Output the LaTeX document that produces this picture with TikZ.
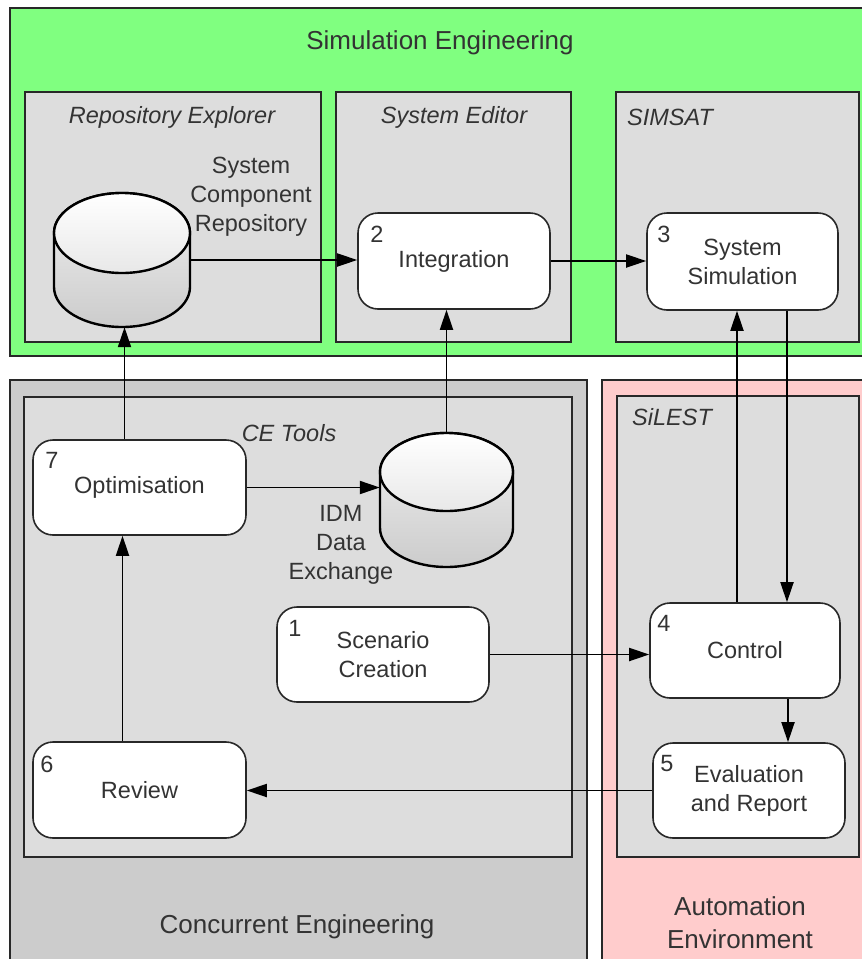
\documentclass[tikz,border=0pt]{standalone}
\usepackage{fontspec}
\setmainfont{Liberation Sans}
\usetikzlibrary{arrows.meta}
\definecolor{simgreen}{RGB}{128,255,128}
\definecolor{boxgrey}{RGB}{221,221,221}
\definecolor{cegrey}{RGB}{204,204,204}
\definecolor{autopink}{RGB}{255,204,204}
\definecolor{txt}{RGB}{51,51,51}
\definecolor{edge}{RGB}{40,40,40}
\begin{document}
\begin{tikzpicture}[x=1pt,y=-1pt,
  font=\fontsize{23.5}{29}\selectfont, text=txt,
  area/.style={draw=edge, line width=1.6pt},
  toolbox/.style={draw=edge, line width=2pt, fill=boxgrey},
  proc/.style={draw=edge, line width=1.6pt, fill=white, rounded corners=20pt, inner sep=0pt, align=center},
  num/.style={anchor=base west, inner sep=0pt},
  lbl/.style={align=center, inner sep=0pt},
  biglbl/.style={align=center, inner sep=0pt, font=\fontsize{26}{33}\selectfont},
  toollbl/.style={inner sep=0pt, font=\fontsize{23.5}{29}\selectfont\itshape},
  cylbody/.style={top color=gray!12, bottom color=gray!40, draw=black, line width=2.4pt},
  cyltop/.style={top color=white, bottom color=gray!18, draw=black, line width=2.4pt},
  arr/.style={draw=black, line width=1.9pt, -{Triangle[length=20pt,width=13pt]}},
]
\useasboundingbox (0,0) rectangle (862,959);

% areas
\path[area, fill=simgreen] (10,8) rectangle (872,356);
\path[area, fill=cegrey] (10,380) rectangle (587,970);
\path[area, fill=autopink] (602,380) rectangle (872,970);

% tool boxes
\path[toolbox] (25,92) rectangle (321,342);
\path[toolbox] (336,92) rectangle (571,342);
\path[toolbox] (616,92) rectangle (859,342);
\path[toolbox] (24,397) rectangle (572,857);
\path[toolbox] (617,396) rectangle (859,857);

% area labels
\node[biglbl] (tSE) at (440,43) {Simulation Engineering};
\node[biglbl] (tCE) at (297,927) {Concurrent Engineering};
\node[biglbl] (tAE) at (740,923) {Automation\\Environment};

% tool labels
\node[toollbl] (tRE) at (172,117) {Repository Explorer};
\node[toollbl] (tSyE) at (454,117) {System Editor};
\node[toollbl, anchor=west] (tSIM) at (627,117) {SIMSAT};
\node[toollbl] (tCET) at (289,433) {CE Tools};
\node[toollbl, anchor=west] (tSIL) at (632,417) {SiLEST};

% cylinder 1
\path[cylbody] (54,233) -- (54,287) arc[start angle=180, end angle=360, x radius=68pt, y radius=40pt] -- (190,233) arc[start angle=0, end angle=180, x radius=68pt, y radius=40pt] -- cycle;
\path[cyltop] (122,233) ellipse [x radius=68pt, y radius=40pt];
\node[inner sep=0pt, minimum width=136pt, minimum height=134pt] (db1) at (122,260) {};
\node[lbl] (l1) at (251,197) {System\\Component\\Repository};

% cylinder 2
\path[cylbody] (380,472) -- (380,528) arc[start angle=180, end angle=360, x radius=66.5pt, y radius=39pt] -- (513,472) arc[start angle=0, end angle=180, x radius=66.5pt, y radius=39pt] -- cycle;
\path[cyltop] (446.5,472) ellipse [x radius=66.5pt, y radius=39pt];
\node[inner sep=0pt, minimum width=133pt, minimum height=134pt] (db2) at (446.5,500) {};
\node[lbl] (l2) at (341,545) {IDM\\Data\\Exchange};

% process nodes
\node[proc, minimum width=192pt, minimum height=96pt] (int) at (454,261) {Integration};
\node[proc, minimum width=191pt, minimum height=97pt] (sim) at (742.5,261.5) {System\\Simulation};
\node[proc, minimum width=213pt, minimum height=95pt] (opt) at (139.5,487.5) {Optimisation};
\node[proc, minimum width=212pt, minimum height=95pt] (scen) at (383,654.5) {Scenario\\Creation};
\node[proc, minimum width=190pt, minimum height=95pt] (ctrl) at (745,650.5) {Control};
\node[proc, minimum width=192pt, minimum height=95pt] (eval) at (749,790.5) {Evaluation\\and Report};
\node[proc, minimum width=213pt, minimum height=96pt] (rev) at (139.5,790) {Review};

% numbers
\node[num] (n2) at ([shift={(13,30)}]int.north west) {2};
\node[num] (n3) at ([shift={(11,30)}]sim.north west) {3};
\node[num] (n7) at ([shift={(13,29)}]opt.north west) {7};
\node[num] (n1) at ([shift={(12,30)}]scen.north west) {1};
\node[num] (n4) at ([shift={(8,29)}]ctrl.north west) {4};
\node[num] (n5) at ([shift={(8,29)}]eval.north west) {5};
\node[num] (n6) at ([shift={(8,31)}]rev.north west) {6};

% connectors
\draw[arr] (db1.east) -- (db1.east -| int.west);
\draw[arr] (int.east) -- (int.east -| sim.west);
\draw[arr] (db2.north) -- (db2.north |- int.south);
\draw[arr] ([xshift=-15pt]opt.north) -- ([xshift=-15pt]opt.north |- db1.south);
\draw[arr] (opt.east) -- (opt.east -| db2.west);
\draw[arr] ([xshift=-8pt]ctrl.north) -- ([xshift=-8pt]ctrl.north |- sim.south);
\draw[arr] ([xshift=44.5pt]sim.south) -- ([xshift=44.5pt]sim.south |- ctrl.north);
\draw[arr] (scen.east) -- (scen.east -| ctrl.west);
\draw[arr] ([xshift=43pt]ctrl.south) -- ([xshift=43pt]ctrl.south |- eval.north);
\draw[arr] (eval.west) -- (eval.west -| rev.east);
\draw[arr] ([xshift=-17pt]rev.north) -- ([xshift=-17pt]rev.north |- opt.south);
\end{tikzpicture}
\end{document}
